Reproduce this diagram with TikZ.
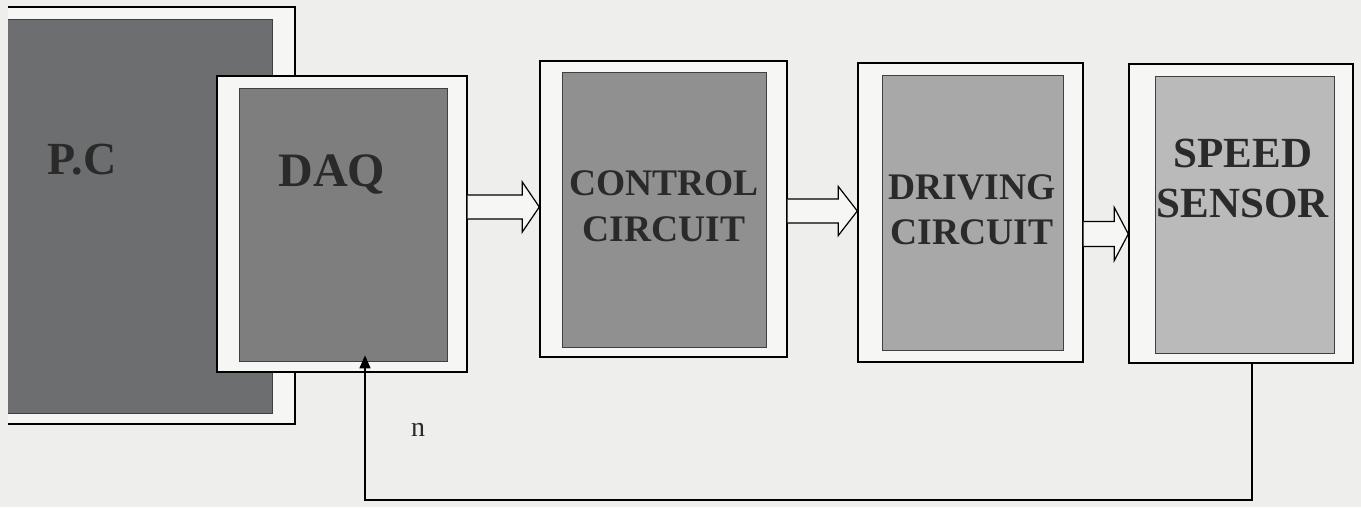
\documentclass[tikz,border=0pt]{standalone}
\usepackage{fontspec}
\setmainfont{Liberation Serif}
\usetikzlibrary{arrows.meta,calc}
\definecolor{bg}{HTML}{EEEEEC}
\definecolor{paper}{HTML}{F6F6F4}
\definecolor{txt}{HTML}{2A2A2A}
\definecolor{gpc}{HTML}{6C6E70}
\definecolor{gdaq}{HTML}{7E7E7E}
\definecolor{gctl}{HTML}{909090}
\definecolor{gdrv}{HTML}{A8A8A8}
\definecolor{gspd}{HTML}{BABABA}
\begin{document}
\begin{tikzpicture}[x=1pt,y=1pt,
  outer/.style={draw=black, line width=1.4pt, fill=paper, inner sep=0pt},
  inner/.style={draw=black!75, line width=0.7pt, inner sep=0pt},
  lbl/.style={text=txt, align=center, inner sep=0pt, font=\bfseries},
  harrow/.style={draw=black, line width=1.2pt, fill=paper, line join=miter},
  fb/.style={draw=black, line width=1.3pt, -{Triangle[width=11pt,length=13pt]}}]
\useasboundingbox (0,0) rectangle (1361,507);
\fill[bg] (0,0) rectangle (1361,507);
% P.C
\begin{scope}
\clip (8,0) rectangle (1361,507);
\node[outer, minimum width=325pt, minimum height=417pt] (pco) at (132.5,291.5) {};
\node[inner, fill=gpc, minimum width=282pt, minimum height=394pt] (pci) at (131,291) {};
\end{scope}
\node[lbl, font=\bfseries\fontsize{46}{50}\selectfont] (pct) at (82,347) {P.C};
% DAQ
\node[outer, minimum width=250pt, minimum height=296pt] (daqo) at (342,283) {};
\node[inner, fill=gdaq, minimum width=208pt, minimum height=273pt] (daqi) at (343,282.5) {};
\node[lbl, font=\bfseries\fontsize{48}{52}\selectfont] (daqt) at (332,332) {DAQ};
% CONTROL
\node[outer, minimum width=247pt, minimum height=296pt] (ctlo) at (663.5,298) {};
\node[inner, fill=gctl, minimum width=204pt, minimum height=275pt] (ctli) at (664,297.5) {};
\node[lbl, font=\bfseries\fontsize{37.5}{46}\selectfont] (ctlt) at (664,301) {CONTROL\\CIRCUIT};
% DRIVING
\node[outer, minimum width=225pt, minimum height=299pt] (drvo) at (970.5,294.5) {};
\node[inner, fill=gdrv, minimum width=181pt, minimum height=275pt] (drvi) at (972.5,294.5) {};
\node[lbl, font=\bfseries\fontsize{37.5}{45}\selectfont] (drvt) at (972,297.5) {DRIVING\\CIRCUIT};
% SPEED SENSOR
\node[outer, minimum width=224pt, minimum height=299pt] (spdo) at (1241,293.5) {};
\node[inner, fill=gspd, minimum width=179pt, minimum height=277pt] (spdi) at (1244.5,292.5) {};
\node[lbl, font=\bfseries\fontsize{43}{50}\selectfont] (spdt) at (1243,329) {SPEED\\SENSOR};
% block arrows
\draw[harrow] let \p1=(daqo.east), \p2=(ctlo.west) in
  (\x1,312pt) -- (\x2-17pt,312pt) -- (\x2-17pt,325pt) -- (\x2,300pt)
  -- (\x2-17pt,275pt) -- (\x2-17pt,288pt) -- (\x1,288pt);
\draw[harrow] let \p1=(ctlo.east), \p2=(drvo.west) in
  (\x1,308pt) -- (\x2-19pt,308pt) -- (\x2-19pt,320.5pt) -- (\x2,296pt)
  -- (\x2-19pt,271.5pt) -- (\x2-19pt,284pt) -- (\x1,284pt);
\draw[harrow] let \p1=(drvo.east), \p2=(spdo.west) in
  (\x1,285.5pt) -- (\x2-14pt,285.5pt) -- (\x2-14pt,299.5pt) -- (\x2,273pt)
  -- (\x2-14pt,246.5pt) -- (\x2-14pt,260.5pt) -- (\x1,260.5pt);
% feedback
\coordinate (c1) at (1252,7);
\coordinate (c2) at (365,7);
\draw[fb] (spdo.south -| c1) -- (c1) -- (c2) -- ($(c2 |- daqi.south)+(0,6)$);
\node[font=\fontsize{28}{30}\selectfont, text=txt, inner sep=0pt] (n) at (418,77) {n};
\end{tikzpicture}
\end{document}
